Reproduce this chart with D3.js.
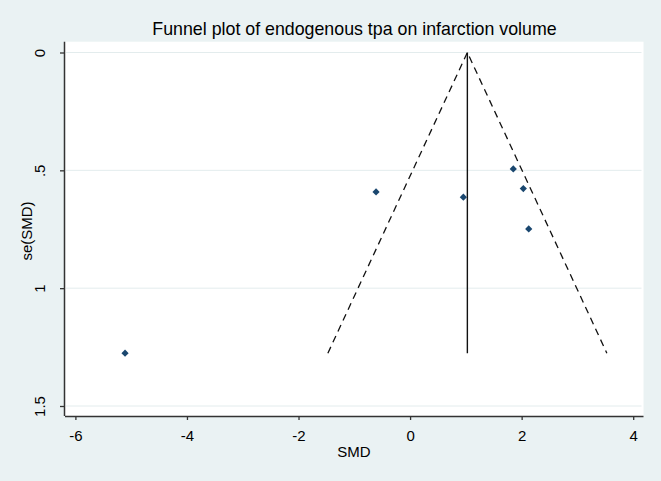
<!DOCTYPE html>
<html>
<head>
<meta charset="utf-8">
<script src="https://cdn.jsdelivr.net/npm/d3@7"></script>
<style>
  html, body { margin: 0; padding: 0; background: #eaf2f3; }
  svg { display: block; font-family: "Liberation Sans", Arial, sans-serif; }
</style>
</head>
<body>
<svg id="chart" width="661" height="481"></svg>
<script>
// ---- data ----
const studySMD = [-5.11, -0.61, 0.955, 1.85, 2.03, 2.127];
const studySE  = [1.276, 0.5915, 0.614, 0.494, 0.5775, 0.7486];
const pooledSMD = 1.027;
const xTicks = [-6, -4, -2, 0, 2, 4];
const yTicks = [0, 0.5, 1, 1.5];
const yTickLabels = ["0", ".5", "1", "1.5"];
const titleText = "Funnel plot of endogenous tpa on infarction volume";
const xTitle = "SMD";
const yTitle = "se(SMD)";

// ---- layout ----
const W = 661, H = 481;
const plot = { left: 65, right: 643.5, top: 41.7, bottom: 416 };
const svg = d3.select("#chart");

const x = d3.scaleLinear().domain([-6, 4]).range([75.4, 633.2]);
const y = d3.scaleLinear().domain([0, 1.5]).range([52.5, 406]);

// background
svg.append("rect").attr("width", W).attr("height", H).attr("fill", "#eaf2f3");
svg.append("rect")
  .attr("x", plot.left).attr("y", plot.top)
  .attr("width", plot.right - plot.left).attr("height", plot.bottom - plot.top)
  .attr("fill", "#ffffff");

// gridlines
svg.append("g").selectAll("line").data(yTicks).join("line")
  .attr("x1", plot.left + 1).attr("x2", plot.right - 2)
  .attr("y1", d => y(d)).attr("y2", d => y(d))
  .attr("stroke", "#e3eced").attr("stroke-width", 1);

// funnel
const seMax = d3.max(studySE);
const funnel = [
  [pooledSMD - 1.96 * seMax, seMax],
  [pooledSMD, 0],
  [pooledSMD + 1.96 * seMax, seMax]
];
svg.append("path")
  .attr("d", d3.line().x(d => x(d[0])).y(d => y(d[1]))(funnel))
  .attr("fill", "none").attr("stroke", "#111")
  .attr("stroke-width", 1.3).attr("stroke-dasharray", "7,5");

svg.append("line")
  .attr("x1", x(pooledSMD)).attr("x2", x(pooledSMD))
  .attr("y1", y(0)).attr("y2", y(seMax))
  .attr("stroke", "#111").attr("stroke-width", 1.4);

// points (diamonds)
const r = 3.6;
svg.append("g").selectAll("path").data(studySMD.map((v, i) => [v, studySE[i]])).join("path")
  .attr("transform", d => `translate(${x(d[0])},${y(d[1])})`)
  .attr("d", `M0,${-r}L${r},0L0,${r}L${-r},0Z`)
  .attr("fill", "#1a476f");

// axes
const xAxis = d3.axisBottom(x).tickValues(xTicks).tickSize(4).tickPadding(10)
  .tickFormat(d => String(d));
const gx = svg.append("g").attr("transform", `translate(0,${plot.bottom})`).call(xAxis);
gx.select(".domain").attr("d", `M${plot.left},0.5H${plot.right}`).attr("stroke", "#333").attr("stroke-width", 1.5);
gx.selectAll(".tick line").attr("stroke", "#333").attr("stroke-width", 1.3);
gx.selectAll(".tick text").attr("font-size", 15).attr("fill", "#000")
  .attr("font-family", "Liberation Sans, Arial, sans-serif");

const yAxis = d3.axisLeft(y).tickValues(yTicks).tickSize(5).tickFormat((d, i) => yTickLabels[i]);
const gy = svg.append("g").attr("transform", `translate(${plot.left},0)`).call(yAxis);
gy.select(".domain").attr("d", `M-0.5,${plot.top}V${plot.bottom}`).attr("stroke", "#333").attr("stroke-width", 1.5);
gy.selectAll(".tick line").attr("stroke", "#333").attr("stroke-width", 1.3);
gy.selectAll(".tick text")
  .attr("font-size", 15).attr("fill", "#000")
  .attr("font-family", "Liberation Sans, Arial, sans-serif")
  .attr("x", null)
  .attr("text-anchor", "middle")
  .attr("transform", "translate(-25.5,0) rotate(-90)")
  .attr("dy", "0.35em");

// titles
svg.append("text").attr("x", 354.5).attr("y", 34.5)
  .attr("text-anchor", "middle").attr("font-size", 17.8).attr("fill", "#000")
  .text(titleText);
svg.append("text").attr("x", 354).attr("y", 457.3)
  .attr("text-anchor", "middle").attr("font-size", 15).attr("fill", "#000")
  .text(xTitle);
svg.append("text")
  .attr("transform", `translate(32,231) rotate(-90)`)
  .attr("text-anchor", "middle").attr("font-size", 15).attr("fill", "#000")
  .text(yTitle);
</script>
</body>
</html>
